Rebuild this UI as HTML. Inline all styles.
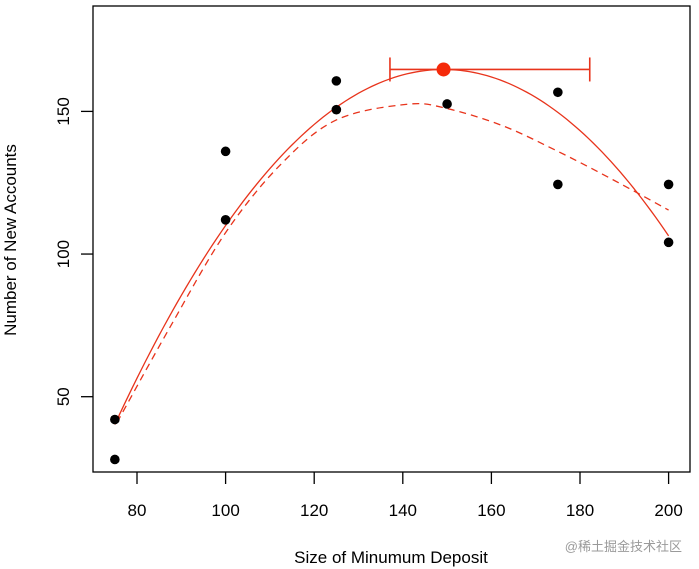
<!DOCTYPE html>
<html><head><meta charset="utf-8"><style>
html,body{margin:0;padding:0;background:#fff;}
svg{display:block;font-family:"Liberation Sans",Arial,sans-serif;}
</style></head><body>
<svg id="chart" width="699" height="569" viewBox="0 0 699 569">
<rect x="93" y="6" width="597" height="466" fill="none" stroke="#000" stroke-width="1.3"/>
<g id="axes"></g>
<g id="series"></g>
<text x="391" y="563" font-size="17" text-anchor="middle">Size of Minumum Deposit</text>
<text transform="translate(16,240) rotate(-90)" font-size="17" text-anchor="middle">Number of New Accounts</text>
<text x="682" y="551" font-size="13" fill="#9a9a9a" text-anchor="end" font-family="'Liberation Sans','Noto Sans CJK SC',sans-serif">@稀土掘金技术社区</text>
</svg>
<script>
const xTicks=[80,100,120,140,160,180,200];
const yTicks=[50,100,150];
const ptX=[75,75,100,100,125,125,150,149.2,175,175,200,200];
const ptY=[28,42,112,136,150.6,160.7,152.6,164.7,124.4,156.7,104.1,124.4];
const quadVertex=[149.2,164.7];
const quadA=[-0.0226];
const dashX=[75.5,87.5,100,112.5,125,141,150,162.5,175,187.5,200];
const dashY=[41,74.5,107.5,131.5,147,152.5,151,145,136,126,115.4];
const optX=[149.2];
const optY=[164.7];
const ciX=[137.1,182.2];

const NS="http://www.w3.org/2000/svg";
const sx=v=>137+(v-80)*4.43;
const sy=v=>396.7-(v-50)*2.853;
function mk(tag,attrs,parent){const e=document.createElementNS(NS,tag);for(const k in attrs)e.setAttribute(k,attrs[k]);parent.appendChild(e);return e;}
const axes=document.getElementById('axes'),series=document.getElementById('series');
xTicks.forEach(t=>{
  const l=mk('line',{x1:sx(t),x2:sx(t),y1:472,y2:484,stroke:'#000','stroke-width':1.3},axes);
  
  
  const tx=mk('text',{x:sx(t),y:516,'font-size':17,'text-anchor':'middle'},axes);
  tx.textContent=t;
  
  
});
yTicks.forEach(t=>{
  const l=mk('line',{x1:81,x2:93,y1:sy(t),y2:sy(t),stroke:'#000','stroke-width':1.3},axes);
  
  
  const tx=mk('text',{transform:`translate(69,${sy(t)}) rotate(-90)`,'font-size':17,'text-anchor':'middle'},axes);
  tx.textContent=t;
  
  
});
let d='M'+sx(dashX[0])+','+sy(dashY[0]);
for(let i=0;i<dashX.length-1;i++){
  const p0=[sx(dashX[Math.max(i-1,0)]),sy(dashY[Math.max(i-1,0)])],p1=[sx(dashX[i]),sy(dashY[i])],p2=[sx(dashX[i+1]),sy(dashY[i+1])],p3=[sx(dashX[Math.min(i+2,dashX.length-1)]),sy(dashY[Math.min(i+2,dashX.length-1)])];
  const c1=[p1[0]+(p2[0]-p0[0])/6,p1[1]+(p2[1]-p0[1])/6],c2=[p2[0]-(p3[0]-p1[0])/6,p2[1]-(p3[1]-p1[1])/6];
  d+=` C${c1[0]},${c1[1]} ${c2[0]},${c2[1]} ${p2[0]},${p2[1]}`;
}
const dash=mk('path',{d,fill:'none',stroke:'#e8341c','stroke-width':1.3,'stroke-dasharray':'7,5'},series);


let s='';
for(let x=75;x<=200.001;x+=1){const y=quadA[0]*(x-quadVertex[0])**2+quadVertex[1];s+=(s?'L':'M')+sx(x)+','+sy(y);}
const sol=mk('path',{d:s,fill:'none',stroke:'#e8341c','stroke-width':1.3},series);


ptX.forEach((x,i)=>{
  const c=mk('circle',{cx:sx(x),cy:sy(ptY[i]),r:4.8,fill:'#000'},series);
  
  
});
const ey=sy(optY[0]);
const eb=mk('g',{stroke:'#e8341c','stroke-width':1.6},series);


mk('line',{x1:sx(ciX[0]),x2:sx(ciX[1]),y1:ey,y2:ey},eb);
mk('line',{x1:sx(ciX[0]),x2:sx(ciX[0]),y1:ey-12,y2:ey+12},eb);
mk('line',{x1:sx(ciX[1]),x2:sx(ciX[1]),y1:ey-12,y2:ey+12},eb);
const od=mk('circle',{cx:sx(optX[0]),cy:ey,r:7,fill:'#f52a0a'},series);


</script>
</body></html>
